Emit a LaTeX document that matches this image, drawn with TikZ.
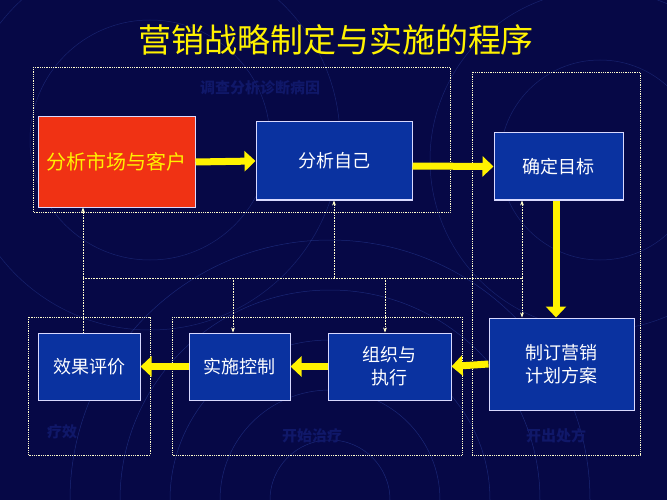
\documentclass[tikz,border=0pt]{standalone}
\usepackage{fontspec}
\newfontfamily\cjk{Noto Sans CJK SC}
\usetikzlibrary{arrows.meta}
\definecolor{bgnavy}{RGB}{6,8,70}
\definecolor{boxblue}{RGB}{10,50,160}
\definecolor{boxred}{RGB}{240,50,20}
\definecolor{ringblue}{RGB}{40,60,150}
\definecolor{faint}{RGB}{16,24,105}
\tikzset{
  stepbox/.style={draw=white!85!blue, line width=1pt, fill=boxblue, text=white, font=\cjk\fontsize{18}{23}\selectfont, align=center, inner sep=0pt},
  bigarrow/.style={-{Triangle[length=11pt,width=20pt]}, yellow, line width=7pt},
  thinlink/.style={densely dotted, white!80!yellow, line width=0.6pt},
  panel/.style={densely dotted, white!80!yellow, line width=0.8pt},
  ghost/.style={text=faint, font=\cjk\fontsize{15}{18}\selectfont\bfseries}
}
\begin{document}
\begin{tikzpicture}[x=1pt,y=-1pt]
\fill[bgnavy] (0,0) rectangle (667,500);
\useasboundingbox (0,0) rectangle (667,500);
% background rings
\foreach \r in {60,110,160,210,260}
  \draw[ringblue, line width=0.5pt, opacity=0.6] (330,500) circle (\r);
\foreach \r in {120,190}
  \draw[ringblue, line width=0.5pt, opacity=0.5] (150,140) circle (\r);
\foreach \r in {100,170}
  \draw[ringblue, line width=0.5pt, opacity=0.5] (600,160) circle (\r);
\node (title) at (336,40) [text=yellow, font=\cjk\fontsize{33}{38}\selectfont] {营销战略制定与实施的程序};
% panels
\draw[panel] (33,67) rectangle (450,212);
\draw[panel] (472,72) rectangle (640,455);
\draw[panel] (28,317) rectangle (150,455);
\draw[panel] (172,317) rectangle (462,455);
\node[ghost] (p1) at (260,88) {调查分析诊断病因};
\node[ghost] (p2) at (62,432) {疗效};
\node[ghost] (p3) at (312,436) {开始治疗};
\node[ghost] (p4) at (556,436) {开出处方};
% steps
\node[stepbox, fill=boxred, text=yellow, font=\cjk\fontsize{20}{24}\selectfont, minimum width=157pt, minimum height=90pt] (market) at (116.5,162) {分析市场与客户};
\node[stepbox, minimum width=156pt, minimum height=78pt] (self) at (334,161) {分析自己};
\node[stepbox, minimum width=129pt, minimum height=67pt] (goal) at (558.5,166.5) {确定目标};
\node[stepbox, minimum width=145pt, minimum height=92pt] (plan) at (561.5,364) {制订营销\\计划方案};
\node[stepbox, minimum width=123pt, minimum height=67pt] (exec) at (389.5,366.5) {组织与\\执行};
\node[stepbox, minimum width=101pt, minimum height=67pt] (ctrl) at (239.5,366.5) {实施控制};
\node[stepbox, minimum width=102pt, minimum height=67pt] (eval) at (89,366.5) {效果评价};
% main flow
\draw[bigarrow] (market.east) -- (self.west);
\draw[bigarrow] (self.east |- 0,166) -- (goal.west);
\draw[bigarrow] (goal.south -| 556,0) -- (plan.north -| 556,0);
\draw[bigarrow] (plan.west) -- (exec.east);
\draw[bigarrow] (exec.west) -- (ctrl.east);
\draw[bigarrow] (ctrl.west) -- (eval.east);
% feedback
\coordinate (fl) at (83,278);
\coordinate (fr) at (522,278);
\draw[thinlink] (fl) -- (fr);
\draw[thinlink] (eval.north -| fl) -- (fl);
\draw[thinlink, -{Stealth[length=5pt]}] (fl) -- (market.south -| fl);
\draw[thinlink, -{Stealth[length=5pt]}] (334,278) -- (self.south);
\draw[thinlink, -{Stealth[length=5pt]}] (fr) -- (goal.south -| fr);
\draw[thinlink, -{Stealth[length=5pt]}] (fr) -- (plan.north -| fr);
\draw[thinlink, -{Stealth[length=5pt]}] (233,278) -- (ctrl.north -| 233,0);
\draw[thinlink, -{Stealth[length=5pt]}] (385,278) -- (exec.north -| 385,0);
\end{tikzpicture}
\end{document}
